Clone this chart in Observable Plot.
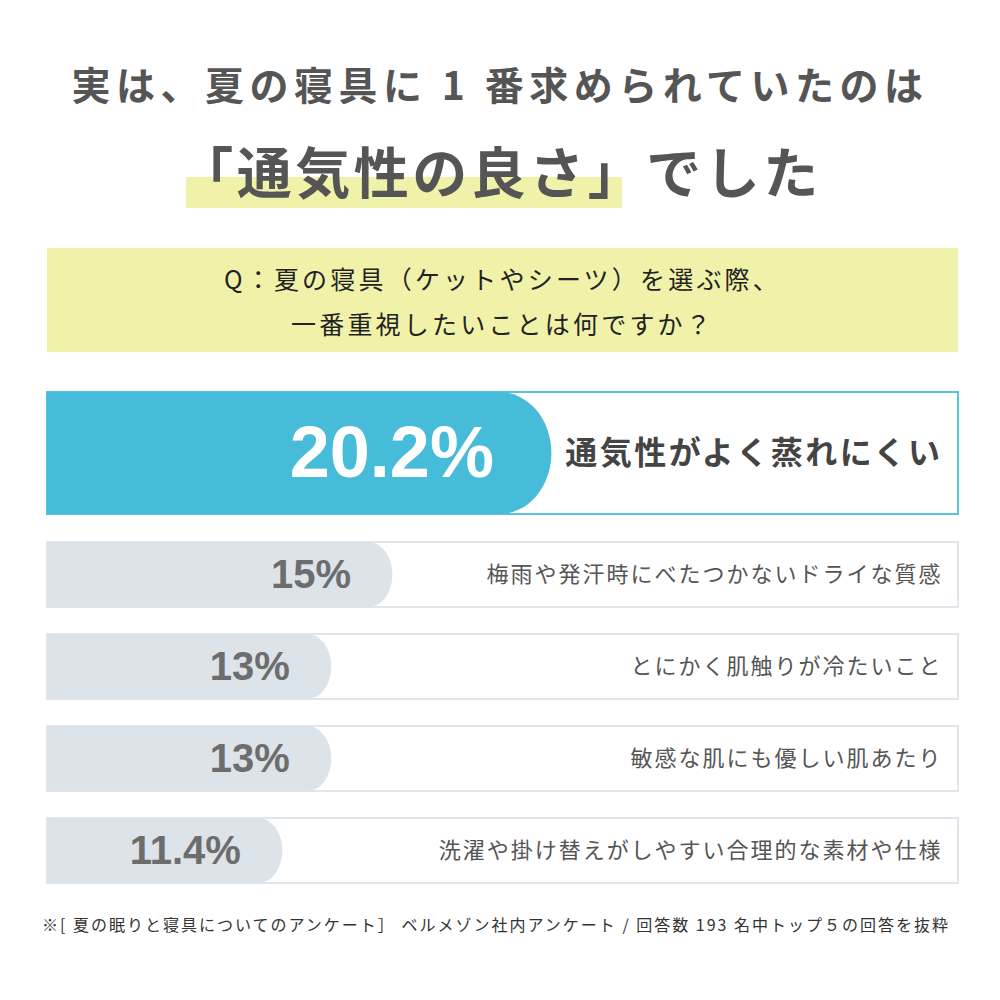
<!DOCTYPE html>
<html><head><meta charset="utf-8">
<script src="https://cdn.jsdelivr.net/npm/d3@7"></script>
<script src="https://cdn.jsdelivr.net/npm/@observablehq/plot@0.6"></script>
<style>
body{margin:0;background:#fff;width:1000px;height:1000px;position:relative;overflow:hidden;font-family:"Noto Sans CJK JP","Noto Sans",sans-serif;}
.abs{position:absolute;}
#t1{top:58px;left:0;width:1000px;text-align:center;font-size:39px;font-weight:700;color:#555;letter-spacing:5.5px;line-height:50px;white-space:nowrap;}
#hl{top:177px;left:186px;width:436px;height:31px;background:#f1f2aa;}
#t2{top:134px;left:0;width:1000px;text-align:center;font-size:55px;font-weight:700;color:#555;letter-spacing:3.5px;line-height:70px;white-space:nowrap;}
#q{top:248px;left:47px;width:911px;height:104px;background:#f1f2aa;}
#qt{top:256px;left:47px;width:911px;text-align:center;font-size:25px;font-weight:400;color:#222;letter-spacing:3.2px;line-height:45px;}
#p1{top:385px;left:0;}
#p2{top:530px;left:0;}
#fn{top:912px;left:42px;font-size:16px;color:#333;letter-spacing:2px;line-height:24px;white-space:nowrap;font-weight:400;}
</style></head>
<body>
<div class="abs" id="hl"></div>
<div class="abs" id="t1">実は、夏の寝具に 1 番求められていたのは</div>
<div class="abs" id="t2">「通気性の良さ」でした</div>
<div class="abs" id="q"></div>
<div class="abs" id="qt">Q：夏の寝具（ケットやシーツ）を選ぶ際、<br>一番重視したいことは何ですか？</div>
<div class="abs" id="p1"></div>
<div class="abs" id="p2"></div>
<div class="abs" id="fn">※[ 夏の眠りと寝具についてのアンケート］ ベルメゾン社内アンケート / 回答数 193 名中トップ５の回答を抜粋</div>
<script>
// Data
const topCategory = ["通気性がよく蒸れにくい"];
const topValue = [20.2];
const categories = ["梅雨や発汗時にべたつかないドライな質感", "とにかく肌触りが冷たいこと", "敏感な肌にも優しい肌あたり", "洗濯や掛け替えがしやすい合理的な素材や仕様"];
const values = [15, 13, 13, 11.4];

const xMin = 3.7, xMax = 33.5;
const topRows = topCategory.map((c, i) => ({label: c, value: topValue[i]}));
const rows = categories.map((c, i) => ({label: c, value: values[i]}));
const numFont = '"Liberation Sans", Arial, sans-serif';
const jpFont = '"Noto Sans CJK JP", sans-serif';

const p1 = Plot.plot({
  width: 1000, height: 136,
  marginLeft: 47, marginRight: 42, marginTop: 7, marginBottom: 7,
  x: {domain: [xMin, xMax], axis: null},
  y: {domain: topCategory, axis: null, padding: 0},
  marks: [
    Plot.barX(topRows, {y: "label", x1: () => xMin, x2: () => xMax, fill: "#fff", stroke: "#5cc1dc", strokeWidth: 2}),
    Plot.barX(topRows, {y: "label", x1: () => xMin, x2: "value", fill: "#47bcd9", rx: 52, ry: 61}),
    Plot.barX(topRows, {y: "label", x1: () => xMin, x2: "value", fill: "#47bcd9", insetRight: 52}),
    Plot.text(topRows, {y: "label", x: "value", text: d => d.value + "%", dx: -58, textAnchor: "end", fontSize: 72, fontWeight: "bold", fill: "#fff", fontFamily: numFont}),
    Plot.text(topRows, {y: "label", text: "label", frameAnchor: "right", dx: -16, textAnchor: "end", fontSize: 32, fontWeight: "bold", fill: "#444", fontFamily: jpFont})
  ]
});
document.getElementById("p1").appendChild(p1);

const p2 = Plot.plot({
  width: 1000, height: 365,
  marginLeft: 47, marginRight: 42, marginTop: 10, marginBottom: 10,
  x: {domain: [xMin, xMax], axis: null},
  y: {domain: categories, axis: null, paddingInner: 0.29, paddingOuter: 0},
  marks: [
    Plot.barX(rows, {y: "label", x1: () => xMin, x2: () => xMax, fill: "#fff", stroke: "#e0e6eb", strokeWidth: 2}),
    Plot.barX(rows, {y: "label", x1: () => xMin, x2: "value", fill: "#dce3e9", rx: 24, ry: 33}),
    Plot.barX(rows, {y: "label", x1: () => xMin, x2: "value", fill: "#dce3e9", insetRight: 24}),
    Plot.text(rows, {y: "label", x: "value", text: d => d.value + "%", dx: -42, textAnchor: "end", fontSize: 40, fontWeight: "bold", fill: "#6d6d6d", fontFamily: numFont}),
    Plot.text(rows, {y: "label", text: "label", frameAnchor: "right", dx: -16, textAnchor: "end", fontSize: 22, fill: "#555", fontFamily: jpFont})
  ]
});
document.getElementById("p2").appendChild(p2);

d3.select(p1).selectAll("text").filter(function(){return /[\u3040-\u9fff]/.test(this.textContent);}).attr("letter-spacing", 2.5);
d3.select(p2).selectAll("text").filter(function(){return /[\u3040-\u9fff]/.test(this.textContent);}).attr("letter-spacing", 2);
</script>
</body></html>
